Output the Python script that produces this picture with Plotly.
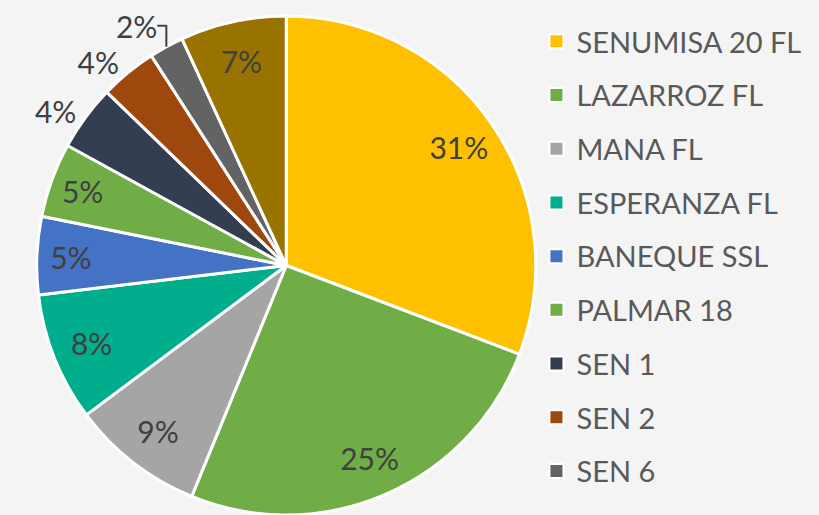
import plotly.graph_objects as go

# Data
categories = ["SENUMISA 20 FL", "LAZARROZ FL", "MANA FL", "ESPERANZA FL", "BANEQUE SSL",
              "PALMAR 18", "SEN 1", "SEN 2", "SEN 6", "OTROS"]
shares = [30.8, 25.4, 8.6, 8.33, 5.05, 4.83, 4.24, 3.68, 2.24, 6.86]
legend_labels = categories[:9]  # the 10th legend entry is cut off in the original

colors = ["#FFC000", "#70AD47", "#A5A5A5", "#00AE8E", "#4472C4",
          "#70AD47", "#333F50", "#9E480E", "#636363", "#997300"]
text_positions = ["inside", "inside", "inside", "inside", "inside",
                  "inside", "outside", "outside", "outside", "inside"]

FONT = "Lato"
BG = "#F4F4F4"
DOMAIN = dict(x=[0, 0.699], y=[0, 1])

fig = go.Figure()
# coloured slices
fig.add_trace(go.Pie(
    labels=categories, values=shares, sort=False,
    direction="clockwise", rotation=0,
    marker=dict(colors=colors, line=dict(color="white", width=3)),
    textinfo="none", showlegend=False,
    hoverinfo="label+percent", domain=DOMAIN,
))
# transparent ring carrying the percentage labels near the outer edge
fig.add_trace(go.Pie(
    labels=categories, values=shares, sort=False,
    direction="clockwise", rotation=0, hole=0.68,
    marker=dict(colors=["rgba(0,0,0,0)"] * len(categories), line=dict(width=0)),
    texttemplate="%{percent:.0%}",
    textposition=text_positions,
    insidetextorientation="horizontal",
    textfont=dict(family=FONT, size=30, color="#404040"),
    outsidetextfont=dict(family=FONT, size=30, color="#404040"),
    showlegend=False, hoverinfo="skip", domain=DOMAIN,
))

for i, name in enumerate(legend_labels):
    fig.add_trace(go.Scatter(
        x=[None], y=[None], mode="markers", name=name,
        legendgroup=f"g{i}",
        marker=dict(symbol="square", size=14, color=colors[i],
                    line=dict(color="white", width=2)),
    ))

fig.update_layout(
    width=819, height=515,
    margin=dict(l=0, r=0, t=16, b=0, autoexpand=False),
    paper_bgcolor=BG, plot_bgcolor=BG,
    xaxis=dict(visible=False), yaxis=dict(visible=False),
    legend=dict(
        x=0.655, y=1.0, xanchor="left", yanchor="top",
        traceorder="grouped", tracegroupgap=13,
        font=dict(family=FONT, size=29, color="#595959"),
        bgcolor="rgba(0,0,0,0)",
    ),
)

fig.write_html("out.html", config={"displayModeBar": False},
               post_script="document.body.style.margin='0';document.body.style.background='" + BG + "';")
